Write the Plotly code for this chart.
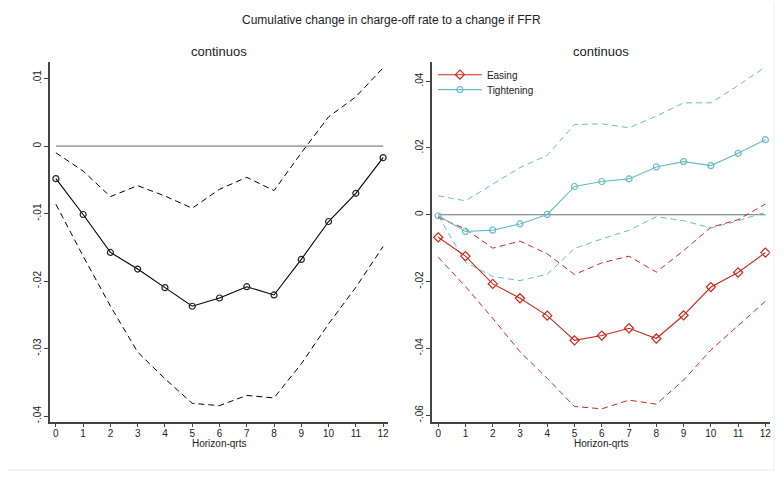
import plotly.graph_objects as go

W, H = 784, 477

horizon = list(range(13))

# Left panel: continuous
cont_est = [-0.00482, -0.01013, -0.01575, -0.01821, -0.02097, -0.02372, -0.0225,
            -0.02083, -0.02205, -0.01678, -0.01117, -0.00699, -0.00171]
cont_hi = [-0.00098, -0.0037, -0.00748, -0.00585, -0.00739, -0.0092, -0.0064,
           -0.00462, -0.00659, -0.001, 0.00433, 0.0073, 0.0116]
cont_lo = [-0.00861, -0.0163, -0.0237, -0.03052, -0.03446, -0.0381, -0.03845,
           -0.03693, -0.03731, -0.03225, -0.02634, -0.02092, -0.01486]

# Right panel: easing / tightening
ease_est = [-0.00675, -0.0124, -0.0207, -0.025, -0.0302, -0.0376, -0.03616,
            -0.03398, -0.03705, -0.0301, -0.02164, -0.01729, -0.01133]
ease_hi = [-0.0008, -0.00426, -0.01, -0.0079, -0.0117, -0.0179, -0.0144,
           -0.0124, -0.01718, -0.01073, -0.00376, -0.00149, 0.00319]
ease_lo = [-0.0127, -0.0215, -0.031, -0.041, -0.049, -0.0574, -0.0581,
           -0.0555, -0.0567, -0.0495, -0.0405, -0.0331, -0.0259]

tight_est = [-0.0003, -0.005, -0.0046, -0.00275, 0.0001, 0.00846, 0.00995,
             0.01073, 0.01431, 0.0159, 0.01471, 0.01839, 0.02247]
tight_hi = [0.00567, 0.00417, 0.00915, 0.01412, 0.0178, 0.02703, 0.02723,
            0.02604, 0.02951, 0.0335, 0.0335, 0.03866, 0.04423]
tight_lo = [-0.0003, -0.0142, -0.0185, -0.0197, -0.0178, -0.0101, -0.00724,
            -0.00465, -0.0006, -0.00179, -0.00396, -0.00179, 0.0007]

zero_x = [0, 12]
zero_y = [0, 0]

left_ticks = [0.01, 0, -0.01, -0.02, -0.03, -0.04]
left_labels = [".01", "0", "-.01", "-.02", "-.03", "-.04"]
right_ticks = [0.04, 0.02, 0, -0.02, -0.04, -0.06]
right_labels = [".04", ".02", "0", "-.02", "-.04", "-.06"]

RED = "#c9291d"
TEAL = "#67bcc8"
FONT = "Liberation Sans, Arial, sans-serif"

fig = go.Figure()

# ---- left panel
fig.add_trace(go.Scatter(x=zero_x, y=zero_y, mode="lines", xaxis="x", yaxis="y",
                         line=dict(color="#a6a6a6", width=1.6), showlegend=False, hoverinfo="skip"))
fig.add_trace(go.Scatter(x=horizon, y=cont_hi, mode="lines", xaxis="x", yaxis="y",
                         line=dict(color="black", width=1, dash="6px,4px"), showlegend=False))
fig.add_trace(go.Scatter(x=horizon, y=cont_lo, mode="lines", xaxis="x", yaxis="y",
                         line=dict(color="black", width=1, dash="6px,4px"), showlegend=False))
fig.add_trace(go.Scatter(x=horizon, y=cont_est, mode="lines+markers", xaxis="x", yaxis="y",
                         line=dict(color="black", width=1.1),
                         marker=dict(symbol="circle-open", size=6, color="#222222", line=dict(width=1.2)),
                         showlegend=False))

# ---- right panel
fig.add_trace(go.Scatter(x=zero_x, y=zero_y, mode="lines", xaxis="x2", yaxis="y2",
                         line=dict(color="#707070", width=1.2), showlegend=False, hoverinfo="skip"))
fig.add_trace(go.Scatter(x=horizon, y=tight_hi, mode="lines", xaxis="x2", yaxis="y2",
                         line=dict(color=TEAL, width=1, dash="6px,4px"), showlegend=False))
fig.add_trace(go.Scatter(x=horizon, y=tight_lo, mode="lines", xaxis="x2", yaxis="y2",
                         line=dict(color=TEAL, width=1, dash="6px,4px"), showlegend=False))
fig.add_trace(go.Scatter(x=horizon, y=ease_hi, mode="lines", xaxis="x2", yaxis="y2",
                         line=dict(color=RED, width=1, dash="6px,4px"), showlegend=False))
fig.add_trace(go.Scatter(x=horizon, y=ease_lo, mode="lines", xaxis="x2", yaxis="y2",
                         line=dict(color=RED, width=1, dash="6px,4px"), showlegend=False))
fig.add_trace(go.Scatter(x=horizon, y=ease_est, mode="lines+markers", xaxis="x2", yaxis="y2",
                         name="Easing", legend="legend", line=dict(color=RED, width=1.1),
                         marker=dict(symbol="diamond-open", size=7, color=RED, line=dict(width=1.2))))
fig.add_trace(go.Scatter(x=horizon, y=tight_est, mode="lines+markers", xaxis="x2", yaxis="y2",
                         name="Tightening", legend="legend2", line=dict(color=TEAL, width=1.1),
                         marker=dict(symbol="circle-open", size=6, color=TEAL, line=dict(width=1.2))))

def px_x(p):
    return p / W

def px_y(p):
    return 1 - p / H

base = dict(showgrid=False, zeroline=False, showline=True, linecolor="#444444",
            linewidth=1.5, ticks="outside", tickwidth=1, tickcolor="#444444",
            tickfont=dict(family=FONT, size=10, color="#222222"))

ydom = [px_y(423.3), px_y(62)]

legend_common = dict(xanchor="left", yanchor="middle", bgcolor="rgba(0,0,0,0)",
                     font=dict(family=FONT, size=10, color="#222222"), itemwidth=44)

fig.update_layout(
    width=W, height=H,
    margin=dict(l=0, r=0, t=0, b=0),
    paper_bgcolor="white", plot_bgcolor="white",
    font=dict(family=FONT, color="#222222"),
    xaxis=dict(domain=[px_x(50), px_x(389)], range=[-0.22, 12.18], anchor="y",
               tickmode="array", tickvals=horizon, ticklen=4, ticklabelstandoff=-2, **base),
    yaxis=dict(domain=ydom, range=[-0.0408, 0.0125], anchor="x",
               tickmode="array", tickvals=left_ticks, ticktext=left_labels, tickangle=-90,
               ticklen=4, ticklabelstandoff=-1, **base),
    xaxis2=dict(domain=[px_x(433.3), px_x(771.7)], range=[-0.22, 12.16], anchor="y2",
                tickmode="array", tickvals=horizon, ticklen=4, ticklabelstandoff=-2, **base),
    yaxis2=dict(domain=ydom, range=[-0.0619, 0.0458], anchor="x2",
                tickmode="array", tickvals=right_ticks, ticktext=right_labels, tickangle=-90,
                ticklen=4, ticklabelstandoff=-1, **base),
    legend=dict(x=px_x(434), y=px_y(75), **legend_common),
    legend2=dict(x=px_x(434), y=px_y(90), **legend_common),
    showlegend=True,
)

annotations = [
    dict(text="Cumulative change in charge-off rate to a change if FFR", x=px_x(393), y=px_y(20),
         font=dict(size=12)),
    dict(text="continuos", x=px_x(219.5), y=px_y(52), font=dict(size=13)),
    dict(text="continuos", x=px_x(602.5), y=px_y(52), font=dict(size=13)),
    dict(text="Horizon-qrts", x=px_x(219.5), y=px_y(445), font=dict(size=10)),
    dict(text="Horizon-qrts", x=px_x(602.5), y=px_y(445), font=dict(size=10)),
]
for a in annotations:
    a.update(xref="paper", yref="paper", showarrow=False, xanchor="center", yanchor="middle")
    a["font"].update(family=FONT, color="#222222")
fig.update_layout(annotations=annotations)

# faint outer frame (bottom and right edges)
fig.add_shape(type="line", xref="paper", yref="paper", x0=px_x(8), x1=px_x(776),
              y0=px_y(472), y1=px_y(472), line=dict(color="#e8e8e8", width=1))
fig.add_shape(type="line", xref="paper", yref="paper", x0=px_x(776), x1=px_x(776),
              y0=px_y(472), y1=px_y(2), line=dict(color="#eeeeee", width=1))

fig.write_html("out.html")
